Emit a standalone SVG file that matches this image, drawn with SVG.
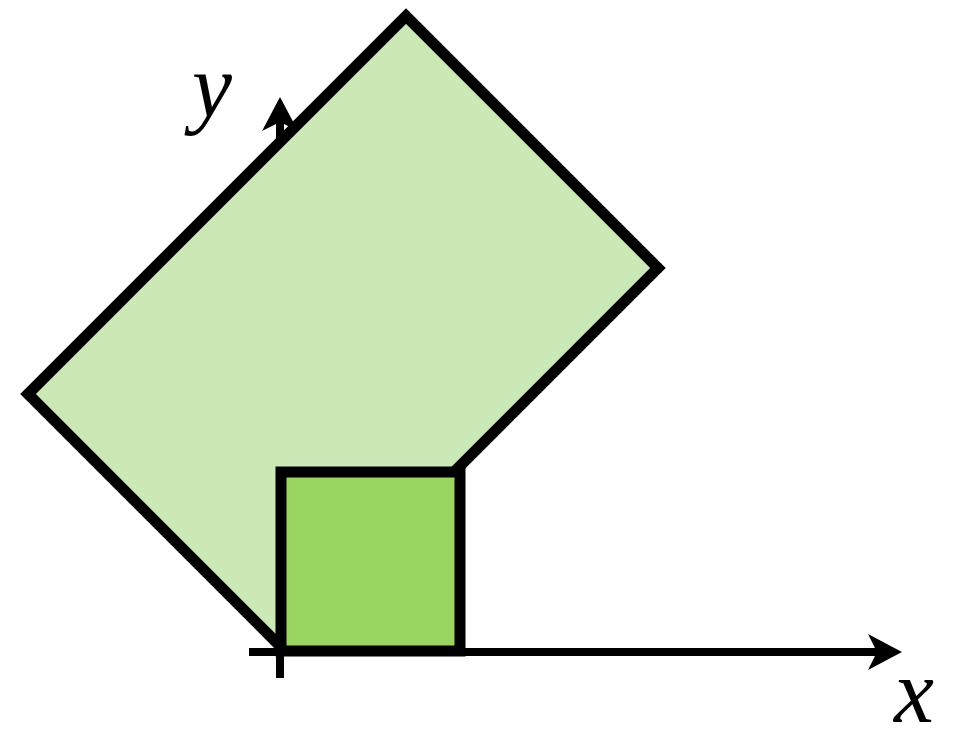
<svg xmlns="http://www.w3.org/2000/svg" width="956" height="738" viewBox="0 0 956 738">
<style>
.ax{stroke:#000;stroke-width:8;fill:none}
.lbl{font-family:"Liberation Serif",serif;font-style:italic;font-size:90px;fill:#000}
.edge{stroke:#000;stroke-width:11;stroke-linejoin:miter}
</style>
<defs>
<marker id="arr" viewBox="0 0 34 36" refX="12" refY="18" markerWidth="34" markerHeight="36" markerUnits="userSpaceOnUse" orient="auto">
<path d="M0,0 L34,18 L0,36 L9,18 Z" fill="#000"/>
</marker>
</defs>
<g id="axes">
<line class="ax" x1="280" y1="678" x2="280" y2="119" marker-end="url(#arr)"/>
<line class="ax" x1="249" y1="652" x2="880" y2="652" marker-end="url(#arr)"/>
</g>
<g id="big-rect">
<polygon class="edge" points="280,646 28,394 406,16 658,268" fill="#cce8b6"/>
</g>
<g id="small-square">
<rect class="edge" x="281" y="472" width="179" height="179" fill="#9bd561"/>
</g>
<g id="labels">
<text class="lbl" x="192" y="117">y</text>
<text class="lbl" x="894" y="722">x</text>
</g>
</svg>
